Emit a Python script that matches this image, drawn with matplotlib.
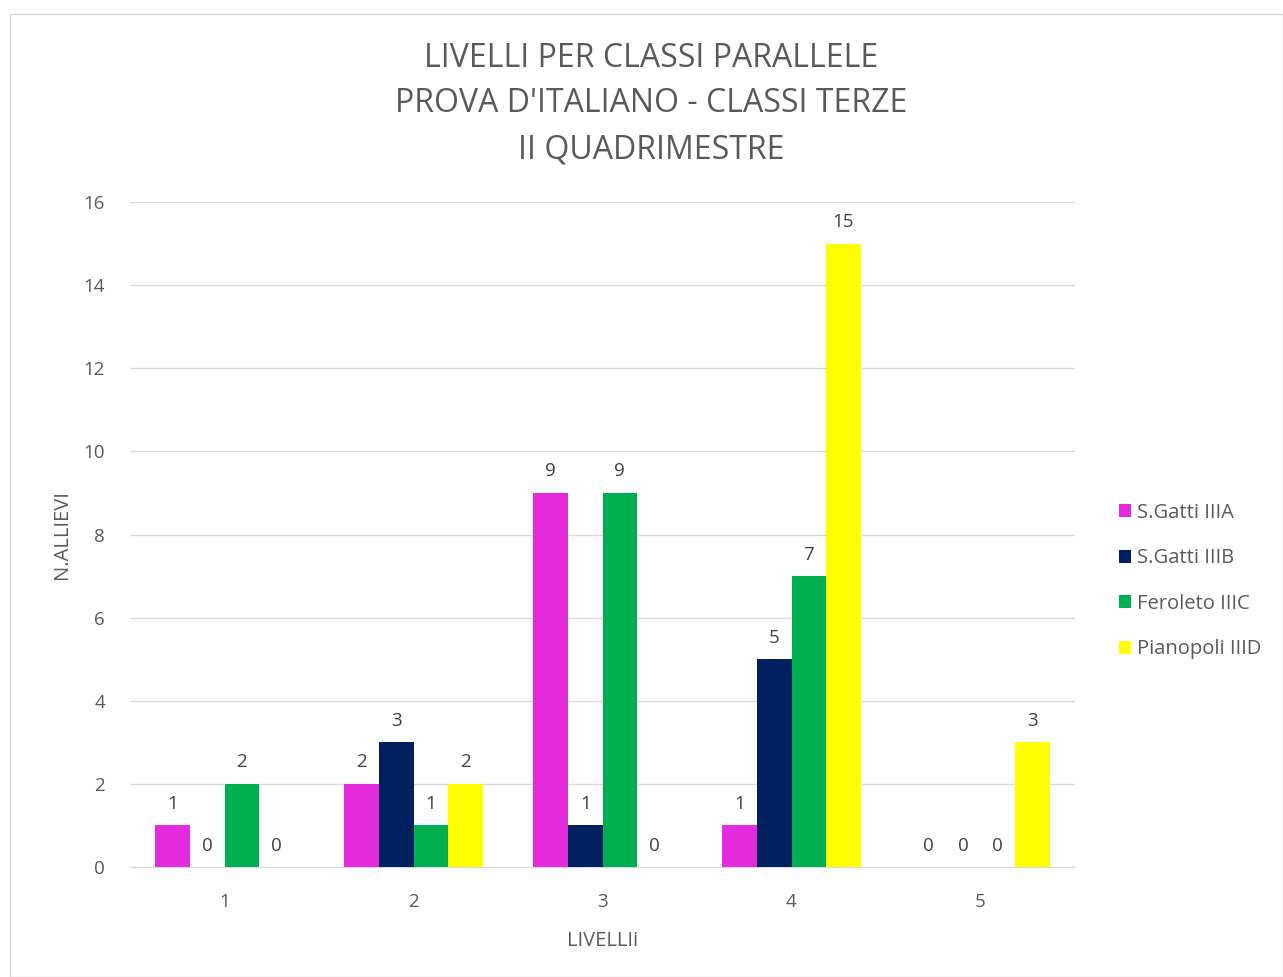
import matplotlib.pyplot as plt
import numpy as np
from matplotlib.patches import Rectangle

levels = ["1", "2", "3", "4", "5"]
series_names = ["S.Gatti IIIA", "S.Gatti IIIB", "Feroleto IIIC", "Pianopoli IIID"]
gatti_a = [1, 2, 9, 1, 0]
gatti_b = [0, 3, 1, 5, 0]
feroleto_c = [2, 1, 9, 7, 0]
pianopoli_d = [0, 2, 0, 15, 3]
colors = ["#E52BDE", "#002060", "#00B050", "#FFFF00"]

plt.rcParams.update({
    "font.family": ["Open Sans", "DejaVu Sans"],
    "text.color": "#595959",
    "xtick.color": "#595959",
    "ytick.color": "#595959",
})

fig = plt.figure(figsize=(12.83, 9.77), dpi=100)
fig.patches.append(Rectangle((10 / 1283, 0), 1 - 10 / 1283, 1 - 14 / 977, transform=fig.transFigure,
                             fill=False, edgecolor="#D9D9D9", linewidth=1))
ax = fig.add_axes([130 / 1283, 1 - 867 / 977, 945 / 1283, 665 / 977])

x = np.arange(len(levels))
width = 0.183
all_series = [gatti_a, gatti_b, feroleto_c, pianopoli_d]
for i, (name, vals, col) in enumerate(zip(series_names, all_series, colors)):
    pos = x + (i - 1.5) * width
    ax.bar(pos, vals, width=width, color=col, label=name, zorder=3)
    for p, v in zip(pos, vals):
        ax.text(p, v + 0.3, str(v), ha="center", va="bottom", fontsize=13.5, color="#404040")

ax.set_xlim(-0.5, len(levels) - 0.5)
ax.set_ylim(0, 16)
ax.set_yticks(range(0, 17, 2))
ax.set_xticks(x, levels)
ax.grid(axis="y", color="#D9D9D9", linewidth=1, zorder=0)
for side in ["top", "right", "left"]:
    ax.spines[side].set_visible(False)
ax.spines["bottom"].set_color("#D9D9D9")
ax.tick_params(axis="both", length=0, labelsize=13.5)
ax.tick_params(axis="y", pad=18)
ax.tick_params(axis="x", pad=19)
ax.set_xlabel("LIVELLIi", fontsize=14.5, color="#595959", labelpad=14)
ax.set_ylabel("N.ALLIEVI", fontsize=14.5, color="#595959", labelpad=8)

fig.text(651 / 1283, 1 - 104 / 977, "LIVELLI PER CLASSI PARALLELE\nPROVA D'ITALIANO - CLASSI TERZE\nII QUADRIMESTRE",
         ha="center", va="center", fontsize=23, color="#595959", linespacing=1.5)

ax.legend(loc="center left", bbox_to_anchor=(1.038, 0.43), frameon=False, fontsize=14.5,
          handlelength=0.6, handleheight=0.6, handletextpad=0.3, labelspacing=1.27, borderaxespad=0)

fig.savefig("out.png", dpi=100, facecolor="white")
